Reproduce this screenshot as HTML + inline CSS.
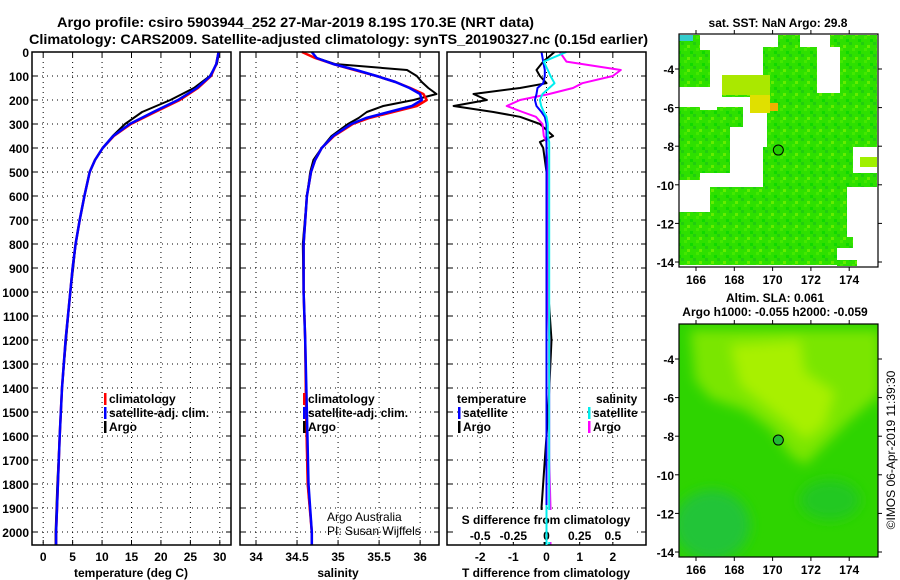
<!DOCTYPE html>
<html><head><meta charset="utf-8"><style>
html,body{margin:0;padding:0;background:#fff;width:900px;height:580px;overflow:hidden}
svg{display:block;font-family:"Liberation Sans",sans-serif}
.t{font-weight:bold;font-size:12px}
</style></head><body>
<svg id="fig" width="900" height="580" viewBox="0 0 900 580">
<text class="t" x="57" y="27" textLength="477" lengthAdjust="spacingAndGlyphs" style="font-size:14px">Argo profile: csiro 5903944_252 27-Mar-2019 8.19S 170.3E (NRT data)</text>
<text class="t" x="29" y="44" textLength="619" lengthAdjust="spacingAndGlyphs" style="font-size:14px">Climatology: CARS2009. Satellite-adjusted climatology: synTS_20190327.nc (0.15d earlier)</text>
<g id="plots"></g>
<g id="maps"></g>
<text class="t" transform="translate(895,450) rotate(-90)" text-anchor="middle" style="font-weight:normal;font-size:12px">©IMOS 06-Apr-2019 11:39:30</text>
</svg>
<script>
// ---- data ----
const depthTicks=[0,100,200,300,400,500,600,700,800,900,1000,1100,1200,1300,1400,1500,1600,1700,1800,1900,2000];
const tempTicks=[0,5,10,15,20,25,30];
const salTicks=[34,34.5,35,35.5,36];
const salTickLabels=["34","34.5","35","35.5","36"];
const tdiffTicks=[-2,-1,0,1,2];
const sdiffTicks=[-0.5,-0.25,0,0.25,0.5];
const sdiffTickLabels=["-0.5","-0.25","0","0.25","0.5"];

const tDepth=[0,50,100,150,200,250,300,350,400,450,500,600,700,800,900,1000,1200,1400,1600,1800,2000,2055];
const tClim=[29.8,29.4,28.5,26.3,23.2,19.0,14.9,12.0,10.1,8.8,7.9,7.0,6.2,5.5,5.0,4.6,3.8,3.2,2.8,2.5,2.2,2.2];
const tSat=[29.8,29.4,28.4,26.1,22.9,18.7,14.7,11.9,10.1,8.8,7.9,7.0,6.2,5.5,5.0,4.6,3.8,3.2,2.8,2.5,2.2,2.2];
const tArgo=[29.9,29.5,28.3,25.6,21.6,16.8,13.9,11.8,10.1,8.8,7.9,7.0,6.2,5.5,5.1,4.6,3.9,3.2,2.8,2.4,2.1,2.1];

const sDepth=[0,25,50,75,100,125,150,175,200,225,250,275,300,350,400,450,500,600,800,1000,1200,1500,1800,2000,2055];
const sClim=[34.56,34.72,34.94,35.2,35.47,35.7,35.88,36.04,36.08,35.96,35.67,35.38,35.18,34.95,34.8,34.72,34.67,34.62,34.58,34.58,34.6,34.61,34.63,34.68,34.68];
const sSat=[34.68,34.74,34.94,35.22,35.47,35.7,35.87,36.0,36.02,35.9,35.62,35.34,35.16,34.94,34.8,34.72,34.67,34.62,34.58,34.58,34.6,34.62,34.64,34.68,34.68];
const sArgo=[34.68,34.74,34.96,35.84,35.96,36.02,36.1,36.2,35.92,35.55,35.35,35.25,35.12,34.92,34.8,34.7,34.66,34.62,34.57,34.58,34.6,34.61,34.63,34.68,34.68];

const dDepth=[0,40,75,100,130,150,175,200,225,250,270,300,350,375,400,500,700,1000,1200,1500,1700,1900,2055];
const dTArgo=[0.24,-0.1,-0.3,-0.2,0,-0.8,-2.2,-1.8,-2.8,-1.6,-0.8,-0.2,0.2,-0.2,-0.1,0,0,0.05,0.15,0.05,-0.05,-0.15,-0.05];
const dTSat=[-0.15,-0.1,-0.05,-0.05,-0.1,-0.27,-0.3,-0.35,-0.3,-0.15,-0.05,0,0,0,0,0,0,0,0,0,0,0,0];
const dSArgo=[0.1,0.15,0.56,0.5,0.27,0.2,0.02,-0.2,-0.3,-0.18,-0.08,-0.03,-0.02,0,0,0.01,0.01,0.01,0.02,0.02,0.02,0.03,0.03];
const dSSat=[0.15,-0.02,0.01,0.03,0.06,0.02,-0.03,-0.05,-0.04,-0.02,0,0.01,0.01,0.02,0.02,0.02,0.02,0.02,0.02,0.02,0.02,0.02,0.02];

const NS="http://www.w3.org/2000/svg";
function mk(tag,at,parent){const e=document.createElementNS(NS,tag);for(const k in at)e.setAttribute(k,at[k]);parent.appendChild(e);return e;}
const plots=document.getElementById('plots');
const Y0=52,Y1=545;
const yD=d=>Y0+d*0.24;
const panels=[
 {x0:32,x1:231,lo:-1.9,hi:31.9,name:'temperature'},
 {x0:240,x1:439,lo:33.805,hi:36.23,name:'salinity'},
 {x0:447,x1:646,lo:-3,hi:3,name:'difference'}];
panels.forEach(p=>{p.sx=v=>p.x0+(v-p.lo)/(p.hi-p.lo)*(p.x1-p.x0);});
const sdx=v=>panels[2].sx(v*4);

function grid(p,ticks){
 const g=mk('g',{},plots);
 
 
 depthTicks.forEach(d=>{mk('line',{x1:p.x0,x2:p.x1,y1:yD(d),y2:yD(d),stroke:'#000','stroke-dasharray':'1,4','stroke-width':1},g);
  mk('line',{x1:p.x0,x2:p.x0+5,y1:yD(d),y2:yD(d),stroke:'#000'},g);mk('line',{x1:p.x1-5,x2:p.x1,y1:yD(d),y2:yD(d),stroke:'#000'},g);});
 ticks.forEach(v=>{const x=p.sx(v);mk('line',{x1:x,x2:x,y1:Y0,y2:Y1,stroke:'#000','stroke-dasharray':'1,4'},g);
  mk('line',{x1:x,x2:x,y1:Y0,y2:Y0+5,stroke:'#000'},g);mk('line',{x1:x,x2:x,y1:Y1-5,y2:Y1,stroke:'#000'},g);});
}
grid(panels[0],tempTicks);grid(panels[1],salTicks);grid(panels[2],tdiffTicks);

function line(xs,ds,sx,color,name,w){
 const pts=xs.map((v,i)=>sx(v).toFixed(1)+','+yD(ds[i]).toFixed(1)).join(' ');
 const e=mk('polyline',{points:pts,fill:'none',stroke:color,'stroke-width':w||2,'stroke-linejoin':'round'},plots);
 
 
}
line(tArgo,tDepth,panels[0].sx,'#000','temp-argo-line');
line(tClim,tDepth,panels[0].sx,'#f00','temp-climatology-line',2.5);
line(tSat,tDepth,panels[0].sx,'#00f','temp-satellite-line',2.5);
line(sArgo,sDepth,panels[1].sx,'#000','sal-argo-line');
line(sClim,sDepth,panels[1].sx,'#f00','sal-climatology-line',2.5);
line(sSat,sDepth,panels[1].sx,'#00f','sal-satellite-line',2.5);
line(dTArgo,dDepth,panels[2].sx,'#000','tdiff-argo-line');
line(dSArgo,dDepth,sdx,'#f0f','sdiff-argo-line');
line(dTSat,dDepth,panels[2].sx,'#00f','tdiff-satellite-line');
line(dSSat,dDepth,sdx,'#0ee','sdiff-satellite-line');

panels.forEach(p=>{const r=mk('rect',{x:p.x0,y:Y0,width:p.x1-p.x0,height:Y1-Y0,fill:'none',stroke:'#000','stroke-width':1.5},plots);
 
 });

function txt(x,y,s,name,anchor,extra){const e=mk('text',Object.assign({x:x,y:y,'class':'t','text-anchor':anchor||'start'},extra||{}),plots);e.textContent=s;
 
 return e;}
depthTicks.forEach(d=>txt(29,yD(d)+5,String(d),'depth-tick-label','end'));
tempTicks.forEach(v=>txt(panels[0].sx(v),561,String(v),'temp-tick-label','middle'));
salTicks.forEach((v,i)=>txt(panels[1].sx(v),561,salTickLabels[i],'sal-tick-label','middle'));
tdiffTicks.forEach(v=>txt(panels[2].sx(v),561,String(v),'tdiff-tick-label','middle'));
txt(131,577,'temperature (deg C)','temp-axis-title','middle');
txt(338,577,'salinity','sal-axis-title','middle');
txt(546,577,'T difference from climatology','tdiff-axis-title','middle');
const bg=mk('rect',{x:456,y:510,width:180,height:32,fill:'#fff'},plots);


txt(546,524,'S difference from climatology','sdiff-axis-title','middle');
sdiffTicks.forEach((v,i)=>txt(sdx(v),540,sdiffTickLabels[i],'sdiff-tick-label','middle'));
mk('line',{x1:sdx(0),x2:sdx(0),y1:505,y2:Y1,stroke:'#0ee','stroke-width':2},plots);

function leg(x,y,color,label,name){mk('rect',{x:x,y:y-10,width:2.5,height:12,fill:color},plots);
 txt(x+5,y,label,name);}
leg(104,403,'#f00','climatology','legend-climatology');
leg(104,417,'#00f','satellite-adj. clim.','legend-satellite-adj');
leg(104,431,'#000','Argo','legend-argo');
leg(303,403,'#f00','climatology','legend2-climatology');
leg(303,417,'#00f','satellite-adj. clim.','legend2-satellite-adj');
leg(303,431,'#000','Argo','legend2-argo');
txt(457,403,'temperature','legend-temperature-header');
leg(458,417,'#00f','satellite','legend-t-satellite');
leg(458,431,'#000','Argo','legend-t-argo');
txt(596,403,'salinity','legend-salinity-header');
leg(588,417,'#0ee','satellite','legend-s-satellite');
leg(588,431,'#f0f','Argo','legend-s-argo');
txt(327,521,'Argo Australia','credit-argo-australia','start',{style:'font-weight:normal;font-size:12px'});
txt(327,535,'PI: Susan Wijffels','credit-pi','start',{style:'font-weight:normal;font-size:12px'});

// ---- maps ----
const maps=document.getElementById('maps');
function mapFrame(top){
 const L=679,R=878,B=top+233;
 return {L,R,T:top,B,lx:v=>696+(v-166)*19.15,ly:v=>top+35+(-4-v)*19.3};
}
const lonTicks=[166,168,170,172,174], latTicks=[-4,-6,-8,-10,-12,-14];
function axes(m,name){
 const g=mk('g',{},maps);
 
 
 mk('rect',{x:m.L,y:m.T,width:m.R-m.L,height:m.B-m.T,fill:'none',stroke:'#000','stroke-width':1.2},g);
 lonTicks.forEach(v=>{const x=m.lx(v);mk('line',{x1:x,x2:x,y1:m.T,y2:m.T-4,stroke:'#000'},g);mk('line',{x1:x,x2:x,y1:m.B,y2:m.B+4,stroke:'#000'},g);
  const t=mk('text',{x:x,y:m.B+17,'class':'t','text-anchor':'middle'},g);t.textContent=v;});
 latTicks.forEach(v=>{const y=m.ly(v);mk('line',{x1:m.L,x2:m.L-4,y1:y,y2:y,stroke:'#000'},g);mk('line',{x1:m.R,x2:m.R+4,y1:y,y2:y,stroke:'#000'},g);
  const t=mk('text',{x:m.L-5,y:y+5,'class':'t','text-anchor':'end'},g);t.textContent=v;});
}
const m1=mapFrame(34);
const defs=mk('defs',{},maps);
const pat=mk('pattern',{id:'tex',width:12,height:12,patternUnits:'userSpaceOnUse'},defs);
mk('rect',{width:12,height:12,fill:'#2ee000'},pat);
mk('rect',{x:0,y:0,width:3,height:3,fill:'#44e800'},pat);
mk('rect',{x:6,y:3,width:3,height:3,fill:'#10d800'},pat);
mk('rect',{x:3,y:9,width:3,height:3,fill:'#66ec00'},pat);
mk('rect',{x:9,y:6,width:3,height:3,fill:'#22cc10'},pat);
const blur=mk('filter',{id:'bl',x:'-50%',y:'-50%',width:'200%',height:'200%'},defs);mk('feGaussianBlur',{stdDeviation:6},blur);
const clip=mk('clipPath',{id:'c2'},defs);mk('rect',{x:679,y:324,width:199,height:233},clip);
const blocks=[[679,35,31,52],[778,35,99,12],[763,47,54,46],[840,47,37,53],[767,93,110,54],[679,107,21,73],[693,110,37,63],[717,107,26,20],[763,147,90,40],[843,173,34,14],[770,187,77,53],[679,187,94,78],[700,187,73,20],[750,240,87,25],[837,237,16,11],[837,260,20,6],[722,75,48,22]];
const g1=mk('g',{},maps);


mk('rect',{x:679,y:34,width:199,height:233,fill:'#fff'},g1);
blocks.forEach(b=>mk('rect',{x:b[0],y:b[1],width:b[2],height:b[3],fill:'url(#tex)'},g1));
[[679,187,31,25,'#fff'],[700,35,10,15,'#fff'],[743,127,20,20,'#fff'],[730,150,33,20,'#fff'],[800,35,30,12,'#fff'],[722,75,48,20,'#aae800'],[750,95,20,18,'#e0e000'],[770,103,8,8,'#f0b000'],[860,157,17,10,'#a0f000'],[679,35,14,6,'#3cc']].forEach(b=>mk('rect',{x:b[0],y:b[1],width:b[2],height:b[3],fill:b[4]},g1));
mk('circle',{cx:m1.lx(170.3),cy:m1.ly(-8.2),r:5,fill:'#22cc00',stroke:'#000'},g1);
axes(m1,'sst-map');
const t1=mk('text',{x:778,y:27,'class':'t','text-anchor':'middle'},maps);t1.textContent='sat. SST: NaN Argo: 29.8';


const m2=mapFrame(324);
const g2=mk('g',{'clip-path':'url(#c2)'},maps);


mk('rect',{x:679,y:324,width:199,height:233,fill:'#2ed400'},g2);
mk('polygon',{points:'690,330 880,330 880,395 850,420 825,445 805,465 790,455 772,430 745,410 710,398 695,380',fill:'#7ae600',filter:'url(#bl)'},g2);
mk('polygon',{points:'730,345 800,340 805,372 835,392 825,425 805,440 790,425 765,405 740,385',fill:'#a8f000',filter:'url(#bl)'},g2);
mk('ellipse',{cx:712,cy:525,rx:38,ry:35,fill:'#20c438',filter:'url(#bl)'},g2);
mk('ellipse',{cx:830,cy:500,rx:30,ry:20,fill:'#20c820',filter:'url(#bl)'},g2);
mk('circle',{cx:m2.lx(170.3),cy:m2.ly(-8.2),r:5,fill:'#22bb33',stroke:'#000'},maps);
axes(m2,'sla-map');
const t2=mk('text',{x:775,y:302,'class':'t','text-anchor':'middle'},maps);t2.textContent='Altim. SLA: 0.061';


const t3=mk('text',{x:775,y:316,'class':'t','text-anchor':'middle'},maps);t3.textContent='Argo h1000: -0.055 h2000: -0.059';


</script>
</body></html>
